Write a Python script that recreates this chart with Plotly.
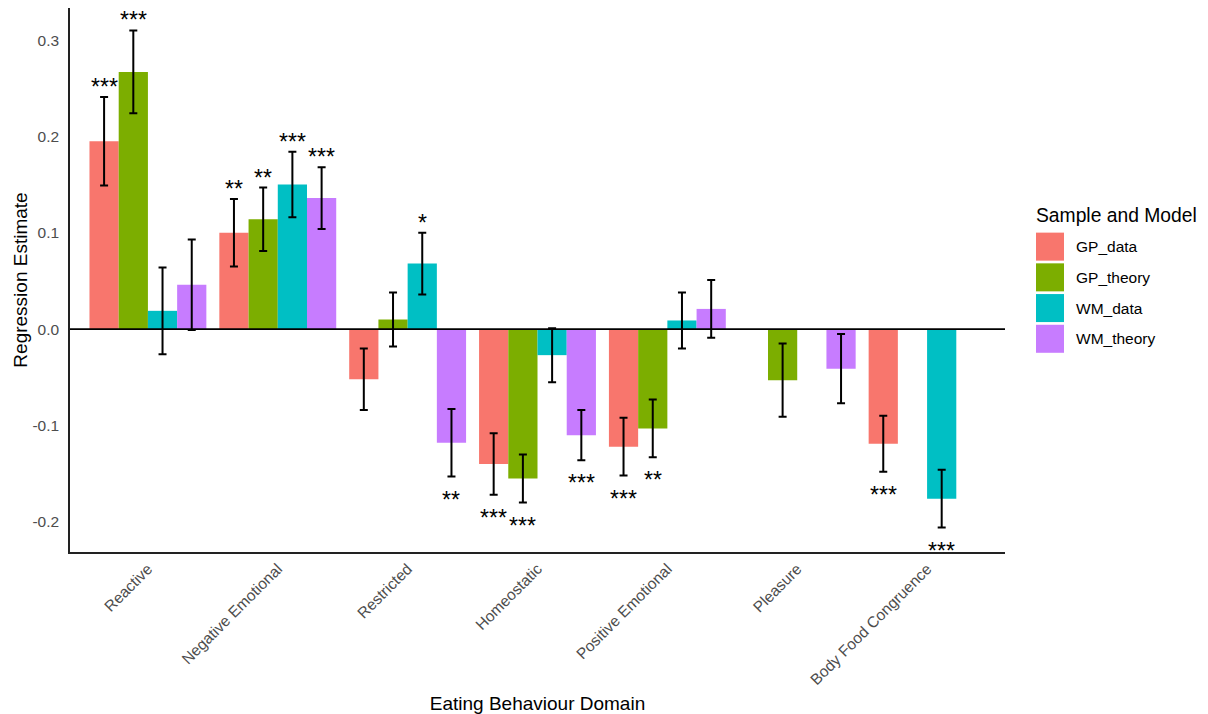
import plotly.graph_objects as go

categories = ["Reactive", "Negative Emotional", "Restricted", "Homeostatic",
              "Positive Emotional", "Pleasure", "Body Food Congruence"]
series = ["GP_data", "GP_theory", "WM_data", "WM_theory"]
colors = ["#F8766D", "#7CAE00", "#00BFC4", "#C77CFF"]

# Regression estimates per series (None = not shown)
gp_data_est = [0.195, 0.100, -0.052, -0.140, -0.122, None, -0.119]
gp_theory_est = [0.267, 0.114, 0.010, -0.155, -0.103, -0.053, None]
wm_data_est = [0.019, 0.150, 0.068, -0.027, 0.009, None, -0.176]
wm_theory_est = [0.046, 0.136, -0.118, -0.110, 0.021, -0.041, None]

# Error bar half-widths
gp_data_err = [0.046, 0.035, 0.032, 0.032, 0.030, None, 0.029]
gp_theory_err = [0.043, 0.033, 0.028, 0.025, 0.030, 0.038, None]
wm_data_err = [0.045, 0.034, 0.032, 0.028, 0.029, None, 0.030]
wm_theory_err = [0.047, 0.032, 0.035, 0.026, 0.030, 0.036, None]

# Significance labels
gp_data_sig = ["***", "**", "", "***", "***", "", "***"]
gp_theory_sig = ["***", "**", "", "***", "**", "", ""]
wm_data_sig = ["", "***", "*", "", "", "", "***"]
wm_theory_sig = ["", "***", "**", "***", "", "", ""]

ests = [gp_data_est, gp_theory_est, wm_data_est, wm_theory_est]
errs = [gp_data_err, gp_theory_err, wm_data_err, wm_theory_err]
sigs = [gp_data_sig, gp_theory_sig, wm_data_sig, wm_theory_sig]

FONT = "Liberation Sans, Arial, Helvetica, sans-serif"
xidx = list(range(len(categories)))

# page offset from the default body margin
OFF = 8
W, H = 1208 - OFF, 714 - OFF

fig = go.Figure()
for name, col, est, err in zip(series, colors, ests, errs):
    fig.add_trace(go.Bar(
        x=xidx, y=est, name=name, marker_color=col, marker_line_width=0,
        error_y=dict(type="data", array=[e if e is not None else 0 for e in err],
                     color="black", thickness=2, width=4),
        showlegend=False,
    ))

# significance annotations
n = len(series)
dodge = 0.9 / n
annotations = []
for j, (est, err, sig) in enumerate(zip(ests, errs, sigs)):
    for i, (v, e, s) in enumerate(zip(est, err, sig)):
        if not s or v is None:
            continue
        xpos = i + (j - (n - 1) / 2) * dodge
        up = v >= 0
        annotations.append(dict(x=xpos, y=(v + e) if up else (v - e), text=s,
                                showarrow=False, xref="x", yref="y", yanchor="middle",
                                yshift=10 if up else -23, borderpad=0,
                                font=dict(family=FONT, size=23, color="black")))

# plot-area bounds in page pixels
L, R, T, B = 70, 1005, 8, 551.7
def px(xp):
    return (xp - L) / (R - L)
def py(yp):
    return (B - yp) / (B - T)

# custom legend (large keys like ggplot)
annotations.append(dict(x=px(1034), y=py(215), xref="paper", yref="paper",
                        text="Sample and Model", showarrow=False, xanchor="left",
                        yanchor="middle", font=dict(family=FONT, size=19.3, color="black")))
shapes = []
for k, (name, col) in enumerate(zip(series, colors)):
    top = 232.5 + k * 30.7
    shapes.append(dict(type="rect", xref="paper", yref="paper",
                       x0=px(1036), x1=px(1064), y0=py(top + 28), y1=py(top),
                       fillcolor=col, line=dict(width=0)))
    annotations.append(dict(x=px(1074), y=py(top + 14), xref="paper", yref="paper",
                            text=name, showarrow=False, xanchor="left", yanchor="middle",
                            font=dict(family=FONT, size=15.5, color="black")))

# zero line
shapes.append(dict(type="line", xref="paper", yref="y", x0=0, x1=1, y0=0, y1=0,
                   line=dict(color="black", width=1.6), layer="above"))

fig.update_layout(
    width=W, height=H,
    barmode="group", bargap=0.1, bargroupgap=0,
    plot_bgcolor="white", paper_bgcolor="white",
    margin=dict(l=L - OFF, r=1208 - R, t=T - OFF, b=714 - B),
    font=dict(family=FONT, size=15.5, color="#4D4D4D"),
    annotations=annotations, shapes=shapes,
)
fig.update_xaxes(
    range=[-0.6, 6.6], tickmode="array", tickvals=xidx, ticktext=categories,
    tickangle=-45, showgrid=False, zeroline=False, showline=True,
    linecolor="#222222", linewidth=1.6, ticks="", automargin=False,
    tickfont=dict(family=FONT, size=15.5, color="#4D4D4D"),
    title=dict(text="Eating Behaviour Domain", font=dict(family=FONT, size=19, color="black"),
               standoff=10),
)
fig.update_yaxes(
    range=[-0.2313, 0.3333], tickvals=[-0.2, -0.1, 0.0, 0.1, 0.2, 0.3],
    ticktext=["-0.2", "-0.1", "0.0", "0.1", "0.2", "0.3"],
    showgrid=False, zeroline=False, showline=True, linecolor="#222222", linewidth=1.6,
    ticks="", ticklabelstandoff=6, automargin=False,
    tickfont=dict(family=FONT, size=15.5, color="#4D4D4D"),
    title=dict(text="Regression Estimate", font=dict(family=FONT, size=19, color="black"),
               standoff=0),
)

fig.write_html("out.html")
